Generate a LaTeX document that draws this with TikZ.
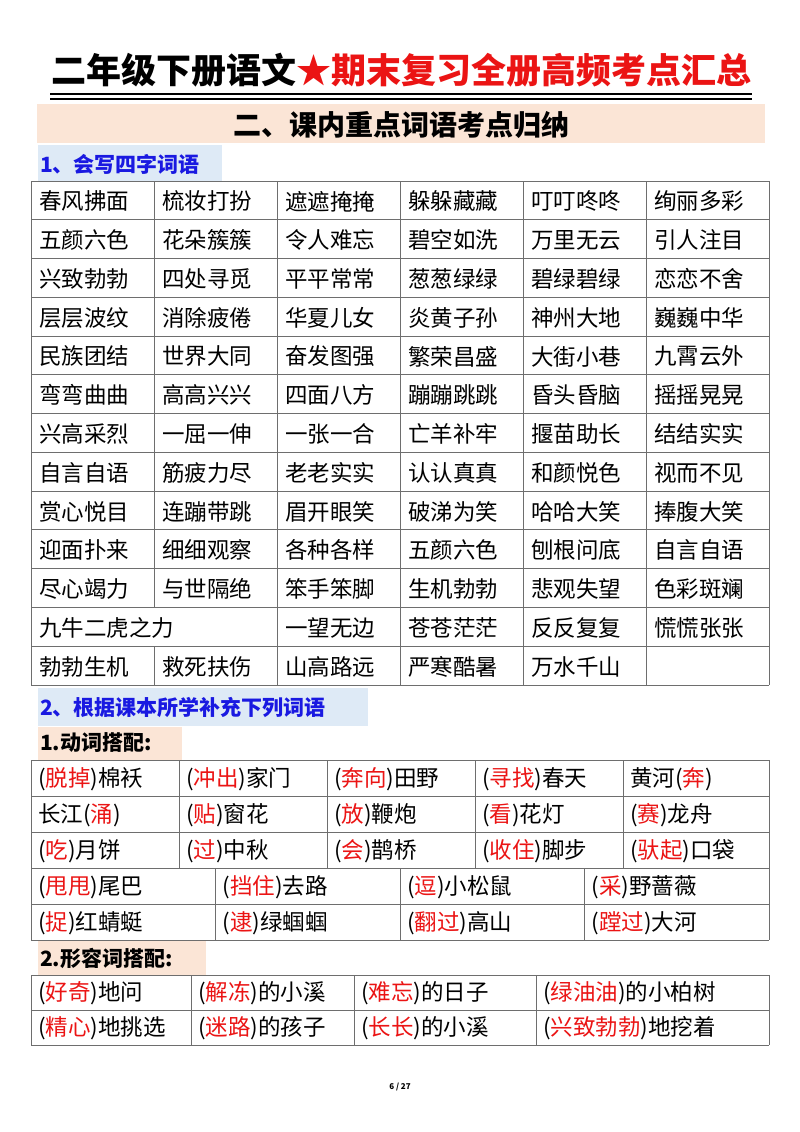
\documentclass[tikz,border=0pt]{standalone}
\usepackage{fontspec}
\setmainfont{Noto Sans CJK SC}
\definecolor{myred}{RGB}{235,20,20}
\definecolor{myblue}{RGB}{25,25,225}
\definecolor{peach}{RGB}{251,229,214}
\definecolor{lblue}{RGB}{222,234,246}
\definecolor{grid}{RGB}{110,110,110}
\newcommand{\hl}[1]{(\textcolor{myred}{#1})}
\tikzset{cell/.style={anchor=west,inner sep=0pt,font=\fontsize{22.5}{22}\selectfont},
 gline/.style={draw=grid,line width=0.9pt},
 head/.style={anchor=west,inner sep=0pt,font=\fontsize{21}{21}\selectfont\bfseries}}
\begin{document}
\begin{tikzpicture}[x=1pt,y=-1pt]
\useasboundingbox (0,0) rectangle (800,1132);
\fill[white] (0,0) rectangle (800,1132);
% title
\node (title) at (401,70) [inner sep=0pt,font=\fontsize{35}{35}\selectfont\bfseries] {二年级下册语文\textcolor{myred}{★期末复习全册高频考点汇总}};
\draw[line width=1.6pt] (50,94) -- (752,94);
\draw[line width=1.6pt] (50,99) -- (752,99);
% banner
\fill[peach] (37,104) rectangle (765,143);
\node (sec) at (401,125) [inner sep=0pt,font=\fontsize{28}{28}\selectfont\bfseries] {二、课内重点词语考点归纳};
\fill[lblue] (38,145) rectangle (222,181);
\node[head,text=myblue] (h1) at (40,164) {1、会写四字词语};
% table 1
\foreach \row [count=\i] in {
{春风拂面,梳妆打扮,遮遮掩掩,躲躲藏藏,叮叮咚咚,绚丽多彩},
{五颜六色,花朵簇簇,令人难忘,碧空如洗,万里无云,引人注目},
{兴致勃勃,四处寻觅,平平常常,葱葱绿绿,碧绿碧绿,恋恋不舍},
{层层波纹,消除疲倦,华夏儿女,炎黄子孙,神州大地,巍巍中华},
{民族团结,世界大同,奋发图强,繁荣昌盛,大街小巷,九霄云外},
{弯弯曲曲,高高兴兴,四面八方,蹦蹦跳跳,昏头昏脑,摇摇晃晃},
{兴高采烈,一屈一伸,一张一合,亡羊补牢,揠苗助长,结结实实},
{自言自语,筋疲力尽,老老实实,认认真真,和颜悦色,视而不见},
{赏心悦目,连蹦带跳,眉开眼笑,破涕为笑,哈哈大笑,捧腹大笑},
{迎面扑来,细细观察,各种各样,五颜六色,刨根问底,自言自语},
{尽心竭力,与世隔绝,笨手笨脚,生机勃勃,悲观失望,色彩斑斓},
{九牛二虎之力,,一望无边,苍苍茫茫,反反复复,慌慌张张},
{勃勃生机,救死扶伤,山高路远,严寒酷暑,万水千山,}}{
  \foreach \w [count=\j] in \row {
    \pgfmathsetmacro\xx{31+123*(\j-1)+8}
    \pgfmathsetmacro\yy{181+38.77*(\i-0.5)+1}
    \node[cell] (a\i-\j) at (\xx,\yy) {\w};
  }
}
\foreach \k in {0,...,13}{\draw[gline] (31,{181+38.77*\k}) -- (769,{181+38.77*\k});}
\foreach \x in {31,277,400,523,646,769}{\draw[gline] (\x,181) -- (\x,685);}
\draw[gline] (154,181) -- (154,{181+38.77*11});
\draw[gline] (154,{181+38.77*12}) -- (154,685);
% section 2
\fill[lblue] (38,688) rectangle (368,726);
\node[head,text=myblue] (h2) at (40,708) {2、根据课本所学补充下列词语};
\fill[peach] (38,727) rectangle (182,760);
\node[head] (h21) at (40,743) {1.动词搭配:};
\foreach \row [count=\i] in {
{\hl{脱掉}棉袄,\hl{冲出}家门,\hl{奔向}田野,\hl{寻找}春天,黄河\hl{奔}},
{长江\hl{涌},\hl{贴}窗花,\hl{放}鞭炮,\hl{看}花灯,\hl{赛}龙舟},
{\hl{吃}月饼,\hl{过}中秋,\hl{会}鹊桥,\hl{收住}脚步,\hl{驮起}口袋}}{
  \foreach \w [count=\j] in \row {
    \pgfmathsetmacro\xx{31+148*(\j-1)+7}
    \pgfmathsetmacro\yy{760+36*(\i-0.5)+1}
    \node[cell] (b\i-\j) at (\xx,\yy) {\w};
  }
}
\foreach \row [count=\i] in {
{\hl{甩甩}尾巴,\hl{挡住}去路,\hl{逗}小松鼠,\hl{采}野蔷薇},
{\hl{捉}红蜻蜓,\hl{逮}绿蝈蝈,\hl{翻过}高山,\hl{蹚过}大河}}{
  \foreach \w [count=\j] in \row {
    \pgfmathsetmacro\xx{31+184.5*(\j-1)+7}
    \pgfmathsetmacro\yy{868+36*(\i-0.5)+1}
    \node[cell] (c\i-\j) at (\xx,\yy) {\w};
  }
}
\foreach \y in {760,796,832,868,904,940}{\draw[gline] (31,\y) -- (769,\y);}
\foreach \x in {31,179,327,475,623,769}{\draw[gline] (\x,760) -- (\x,868);}
\foreach \x in {31,215.5,400,584.5,769}{\draw[gline] (\x,868) -- (\x,940);}
% adjectives
\fill[peach] (38,941) rectangle (206,975);
\node[head] (h22) at (40,958) {2.形容词搭配:};
\def\cx{{31,191,354,536}}
\foreach \row [count=\i] in {
{\hl{好奇}地问,\hl{解冻}的小溪,\hl{难忘}的日子,\hl{绿油油}的小柏树},
{\hl{精心}地挑选,\hl{迷路}的孩子,\hl{长长}的小溪,\hl{兴致勃勃}地挖着}}{
  \foreach \w [count=\j] in \row {
    \pgfmathsetmacro\xx{\cx[\j-1]+7}
    \pgfmathsetmacro\yy{975+35*(\i-0.5)+1}
    \node[cell] (d\i-\j) at (\xx,\yy) {\w};
  }
}
\foreach \y in {975,1010,1045}{\draw[gline] (31,\y) -- (769,\y);}
\foreach \x in {31,191,354,536,769}{\draw[gline] (\x,975) -- (\x,1045);}
\node (pg) at (400,1087) [inner sep=0pt,font=\fontsize{8}{8}\selectfont\bfseries] {6 / 27};
\end{tikzpicture}
\end{document}
